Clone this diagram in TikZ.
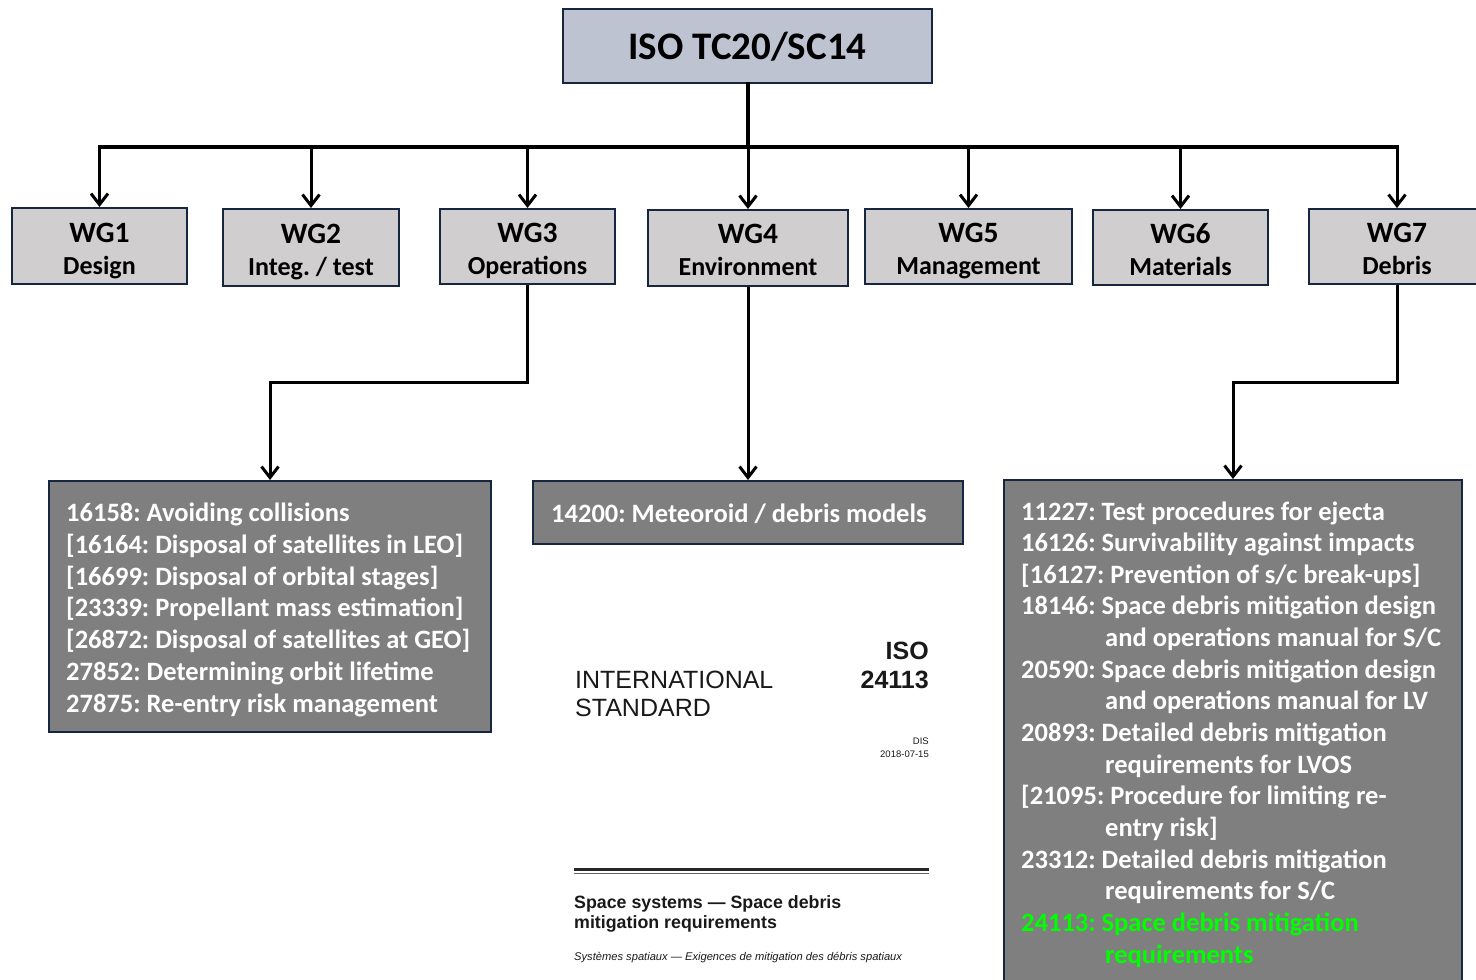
\documentclass[tikz,border=0pt]{standalone}
\usepackage{fontspec}
\setmainfont{Carlito}
\newfontfamily\docfont{Liberation Sans}
\usetikzlibrary{arrows.meta}
\definecolor{navy}{RGB}{23,38,64}
\definecolor{topfill}{RGB}{190,195,210}
\definecolor{wgfill}{RGB}{208,206,206}
\definecolor{listfill}{RGB}{127,127,127}
\definecolor{hlgreen}{RGB}{0,255,0}
\newcommand\rline[3]{\node[listtxt] (r#1) at (#2, 520+31.65*#1) {#3};}
\frenchspacing
\begin{document}
\begin{tikzpicture}[x=1pt,y=-1pt,
  box/.style={draw=navy, line width=2pt, inner sep=0pt, anchor=center},
  topbox/.style={box, fill=topfill},
  wgbox/.style={box, fill=wgfill},
  listbox/.style={box, fill=listfill},
  conn/.style={line width=3pt, black},
  arr/.style={conn, -{Straight Barb[length=11pt,width=17pt]}},
  busline/.style={line width=4pt, black, line cap=rect},
  titletxt/.style={font=\fontsize{39}{42}\selectfont\bfseries, anchor=base, inner sep=0pt},
  wgtxt/.style={font=\fontsize{26}{30}\selectfont\bfseries, anchor=base, inner sep=0pt},
  wghead/.style={font=\fontsize{29.5}{32}\selectfont\bfseries, anchor=base, inner sep=0pt},
  listtxt/.style={font=\fontsize{26.5}{30}\selectfont\bfseries, text=white, anchor=base west, inner sep=0pt},
  doctxt/.style={font=\docfont\fontsize{25}{28}\selectfont, text=black!90, inner sep=0pt}
]
\useasboundingbox (0,0) rectangle (1476,980);
\clip (0,0) rectangle (1476,980);

% coordinates for connector routing
\coordinate (bus) at (0,147);
\coordinate (elb) at (0,382);

% boxes
\node[topbox, minimum width=369pt, minimum height=74pt] (top) at (747.5,46) {};
\node[wgbox, minimum width=175pt, minimum height=76pt] (wg1) at (99.5,246) {};
\node[wgbox, minimum width=176pt, minimum height=77pt] (wg2) at (311,247.5) {};
\node[wgbox, minimum width=175pt, minimum height=75pt] (wg3) at (527.5,246.5) {};
\node[wgbox, minimum width=200pt, minimum height=76pt] (wg4) at (748,248) {};
\node[wgbox, minimum width=207pt, minimum height=75pt] (wg5) at (968.5,246.5) {};
\node[wgbox, minimum width=175pt, minimum height=75pt] (wg6) at (1180.5,247.5) {};
\node[wgbox, minimum width=176pt, minimum height=75pt] (wg7) at (1397,246.5) {};
\node[listbox, minimum width=442pt, minimum height=251pt] (lst1) at (270,606.5) {};
\node[listbox, minimum width=430pt, minimum height=63pt] (lst2) at (748,512.5) {};
\node[listbox, minimum width=458pt, minimum height=520pt] (lst3) at (1233,740) {};

% connectors
\draw[busline] (top.south) -- (top.south |- bus);
\draw[busline] (wg1.north |- bus) -- (wg7.north |- bus);
\foreach \w in {wg1,wg2,wg3,wg4,wg5,wg6,wg7}
  \draw[arr] (\w.north |- bus) -- (\w.north);
\draw[arr] (wg3.south) -- (wg3.south |- elb) -- (lst1.north |- elb) -- (lst1.north);
\draw[arr] (wg4.south) -- (lst2.north);
\draw[arr] (wg7.south) -- (wg7.south |- elb) -- (lst3.north |- elb) -- (lst3.north);

% title
\node[titletxt] (ttl) at (747.5,59) {ISO TC20/SC14};

% WG labels
\node[wghead] (wg1a) at (99.5,242) {WG1};
\node[wgtxt] (wg1b) at (99.5,274) {Design};
\node[wghead] (wg2a) at (311,243) {WG2};
\node[wgtxt] (wg2b) at (311,275) {Integ. / test};
\node[wghead] (wg3a) at (527.5,242) {WG3};
\node[wgtxt] (wg3b) at (527.5,274) {Operations};
\node[wghead] (wg4a) at (748,243) {WG4};
\node[wgtxt] (wg4b) at (748,275) {Environment};
\node[wghead] (wg5a) at (968.5,242) {WG5};
\node[wgtxt] (wg5b) at (968.5,274) {Management};
\node[wghead] (wg6a) at (1180.5,243) {WG6};
\node[wgtxt] (wg6b) at (1180.5,275) {Materials};
\node[wghead] (wg7a) at (1397,242) {WG7};
\node[wgtxt] (wg7b) at (1397,274) {Debris};

% left list
\foreach \t [count=\i from 0] in {
  {16158: Avoiding collisions},
  {[16164: Disposal of satellites in LEO]},
  {[16699: Disposal of orbital stages]},
  {[23339: Propellant mass estimation]},
  {[26872: Disposal of satellites at GEO]},
  {27852: Determining orbit lifetime},
  {27875: Re-entry risk management}}
  \node[listtxt] (l\i) at (66, 521.5+31.8*\i) {\t};

% middle list
\node[listtxt] (m0) at (551,522) {14200: Meteoroid / debris models};

% right list
\rline{0}{1021}{11227: Test procedures for ejecta}
\rline{1}{1021}{16126: Survivability against impacts}
\rline{2}{1021}{[16127: Prevention of s/c break-ups]}
\rline{3}{1021}{18146: Space debris mitigation design}
\rline{4}{1105}{and operations manual for S/C}
\rline{5}{1021}{20590: Space debris mitigation design}
\rline{6}{1105}{and operations manual for LV}
\rline{7}{1021}{20893: Detailed debris mitigation}
\rline{8}{1105}{requirements for LVOS}
\rline{9}{1021}{[21095: Procedure for limiting re-}
\rline{10}{1105}{entry risk]}
\rline{11}{1021}{23312: Detailed debris mitigation}
\rline{12}{1105}{requirements for S/C}
\rline{13}{1021}{\textcolor{hlgreen}{24113: Space debris mitigation}}
\rline{14}{1105}{\textcolor{hlgreen}{requirements}}

% document cover
\node[doctxt, anchor=base west] (intl) at (575,688) {INTERNATIONAL};
\node[doctxt, anchor=base west] (std) at (575,716) {STANDARD};
\node[doctxt, anchor=base east, font=\docfont\fontsize{25}{28}\selectfont\bfseries] (iso) at (929,659) {ISO};
\node[doctxt, anchor=base east, font=\docfont\fontsize{25}{28}\selectfont\bfseries] (num) at (929,688) {24113};
\node[doctxt, anchor=base east, font=\docfont\fontsize{9.5}{11}\selectfont] (dis) at (929,744) {DIS};
\node[doctxt, anchor=base east, font=\docfont\fontsize{9.5}{11}\selectfont] (date) at (929,757) {2018-07-15};
\draw[line width=2.5pt, black!85] (574,869.5) -- (929,869.5);
\draw[line width=1pt, black!60] (574,873.2) -- (929,873.2);
\node[doctxt, anchor=base west, font=\docfont\fontsize{17.8}{20}\selectfont\bfseries] (ss1) at (574,908) {Space systems — Space debris};
\node[doctxt, anchor=base west, font=\docfont\fontsize{17.8}{20}\selectfont\bfseries] (ss2) at (574,928) {mitigation requirements};
\node[doctxt, anchor=base west, font=\docfont\fontsize{11.15}{13}\selectfont\itshape] (fr) at (574,960) {Systèmes spatiaux — Exigences de mitigation des débris spatiaux};
\end{tikzpicture}
\end{document}
